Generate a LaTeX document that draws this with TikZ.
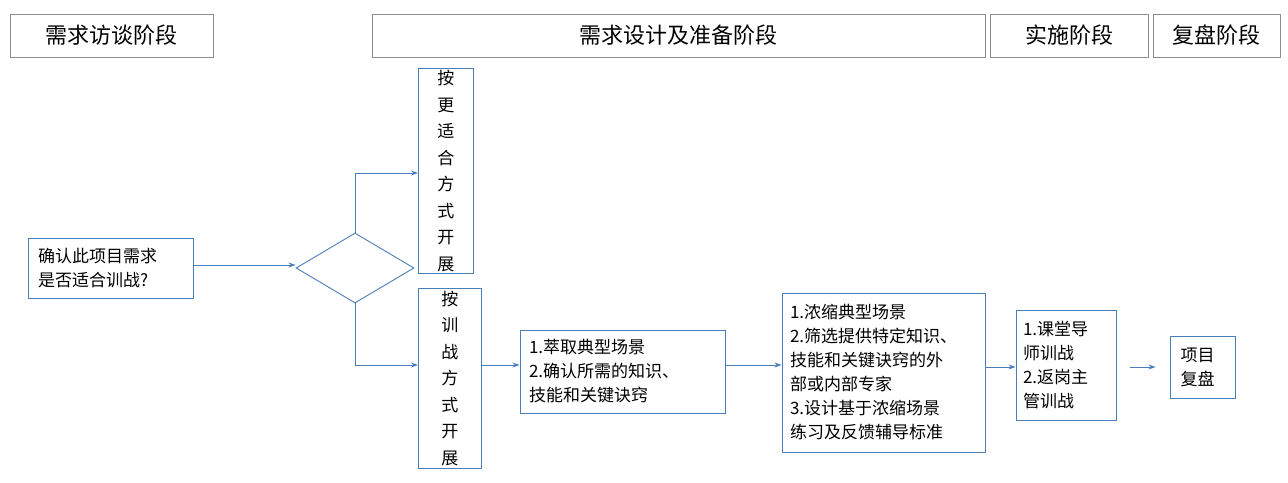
\documentclass[tikz,border=0pt]{standalone}
\usepackage{fontspec}
\setmainfont{Noto Sans CJK SC}
\usetikzlibrary{shapes.geometric,arrows.meta}
\definecolor{bl}{HTML}{4A7EBB}
\definecolor{gr}{HTML}{8C8C8C}
\tikzset{
 hdr/.style={draw=gr,line width=0.8pt,minimum height=43pt,font=\fontsize{22}{24}\selectfont,inner sep=0pt},
 bx/.style={draw=bl,line width=0.9pt,font=\fontsize{17}{24}\selectfont,inner sep=0pt,align=left},
 vt/.style={draw=bl,line width=0.9pt,font=\fontsize{17}{26.5}\selectfont,inner sep=0pt,align=center,anchor=north west},
 ar/.style={draw=bl,line width=0.9pt,-{Stealth[length=7pt,width=5pt]}}
}
\begin{document}
\begin{tikzpicture}[x=1pt,y=-1pt]
\useasboundingbox (0,0) rectangle (1288,482);
\node[hdr,minimum width=203pt] (h1) at (111.5,35.5) {需求访谈阶段};
\node[hdr,minimum width=613pt] (h2) at (678.5,35.5) {需求设计及准备阶段};
\node[hdr,minimum width=158pt] (h3) at (1069,35.5) {实施阶段};
\node[hdr,minimum width=127pt] (h4) at (1216.5,35.5) {复盘阶段};

\node[bx,minimum width=165pt,minimum height=60pt,text width=145pt] (a) at (110.5,268) {确认此项目需求\\是否适合训战?};
\node[draw=bl,line width=0.9pt,diamond,minimum width=118pt,minimum height=70pt,inner sep=0pt,aspect=1.7] (d) at (355,268) {};
\node[vt,minimum width=55pt,minimum height=205pt] (b1) at (418,68) {按\\更\\适\\合\\方\\式\\开\\展};
\node[vt,minimum width=63pt,minimum height=180pt] (b2) at (418,288) {按\\训\\战\\方\\式\\开\\展};
\node[bx,minimum width=205pt,minimum height=83pt,text width=187pt] (c) at (622.5,371.5) {1.萃取典型场景\\2.确认所需的知识、\\技能和关键诀窍};
\node[bx,minimum width=203pt,minimum height=159pt,text width=187pt] (e) at (883.5,372.5) {1.浓缩典型场景\\2.筛选提供特定知识、\\技能和关键诀窍的外\\部或内部专家\\3.设计基于浓缩场景\\练习及反馈辅导标准};
\node[bx,minimum width=100pt,minimum height=110pt,text width=86pt] (f) at (1066,365) {1.课堂导\\师训战\\2.返岗主\\管训战};
\node[bx,minimum width=65pt,minimum height=62pt,text width=44pt] (g) at (1202.5,367) {项目\\复盘};

\draw[ar] (a.east |- 0,265) -- (d.west |- 0,265);
\draw[ar] (d.north) |- (b1.west |- 0,173);
\draw[ar] (d.south) |- (b2.west |- 0,365);
\draw[ar] (b2.east |- 0,365) -- (c.west |- 0,365);
\draw[ar] (c.east |- 0,365) -- (e.west |- 0,365);
\draw[ar] (e.east |- 0,367) -- (f.west |- 0,367);
\draw[ar,shorten <=14pt,shorten >=14pt] (f.east |- 0,367) -- (g.west |- 0,367);
\end{tikzpicture}
\end{document}
